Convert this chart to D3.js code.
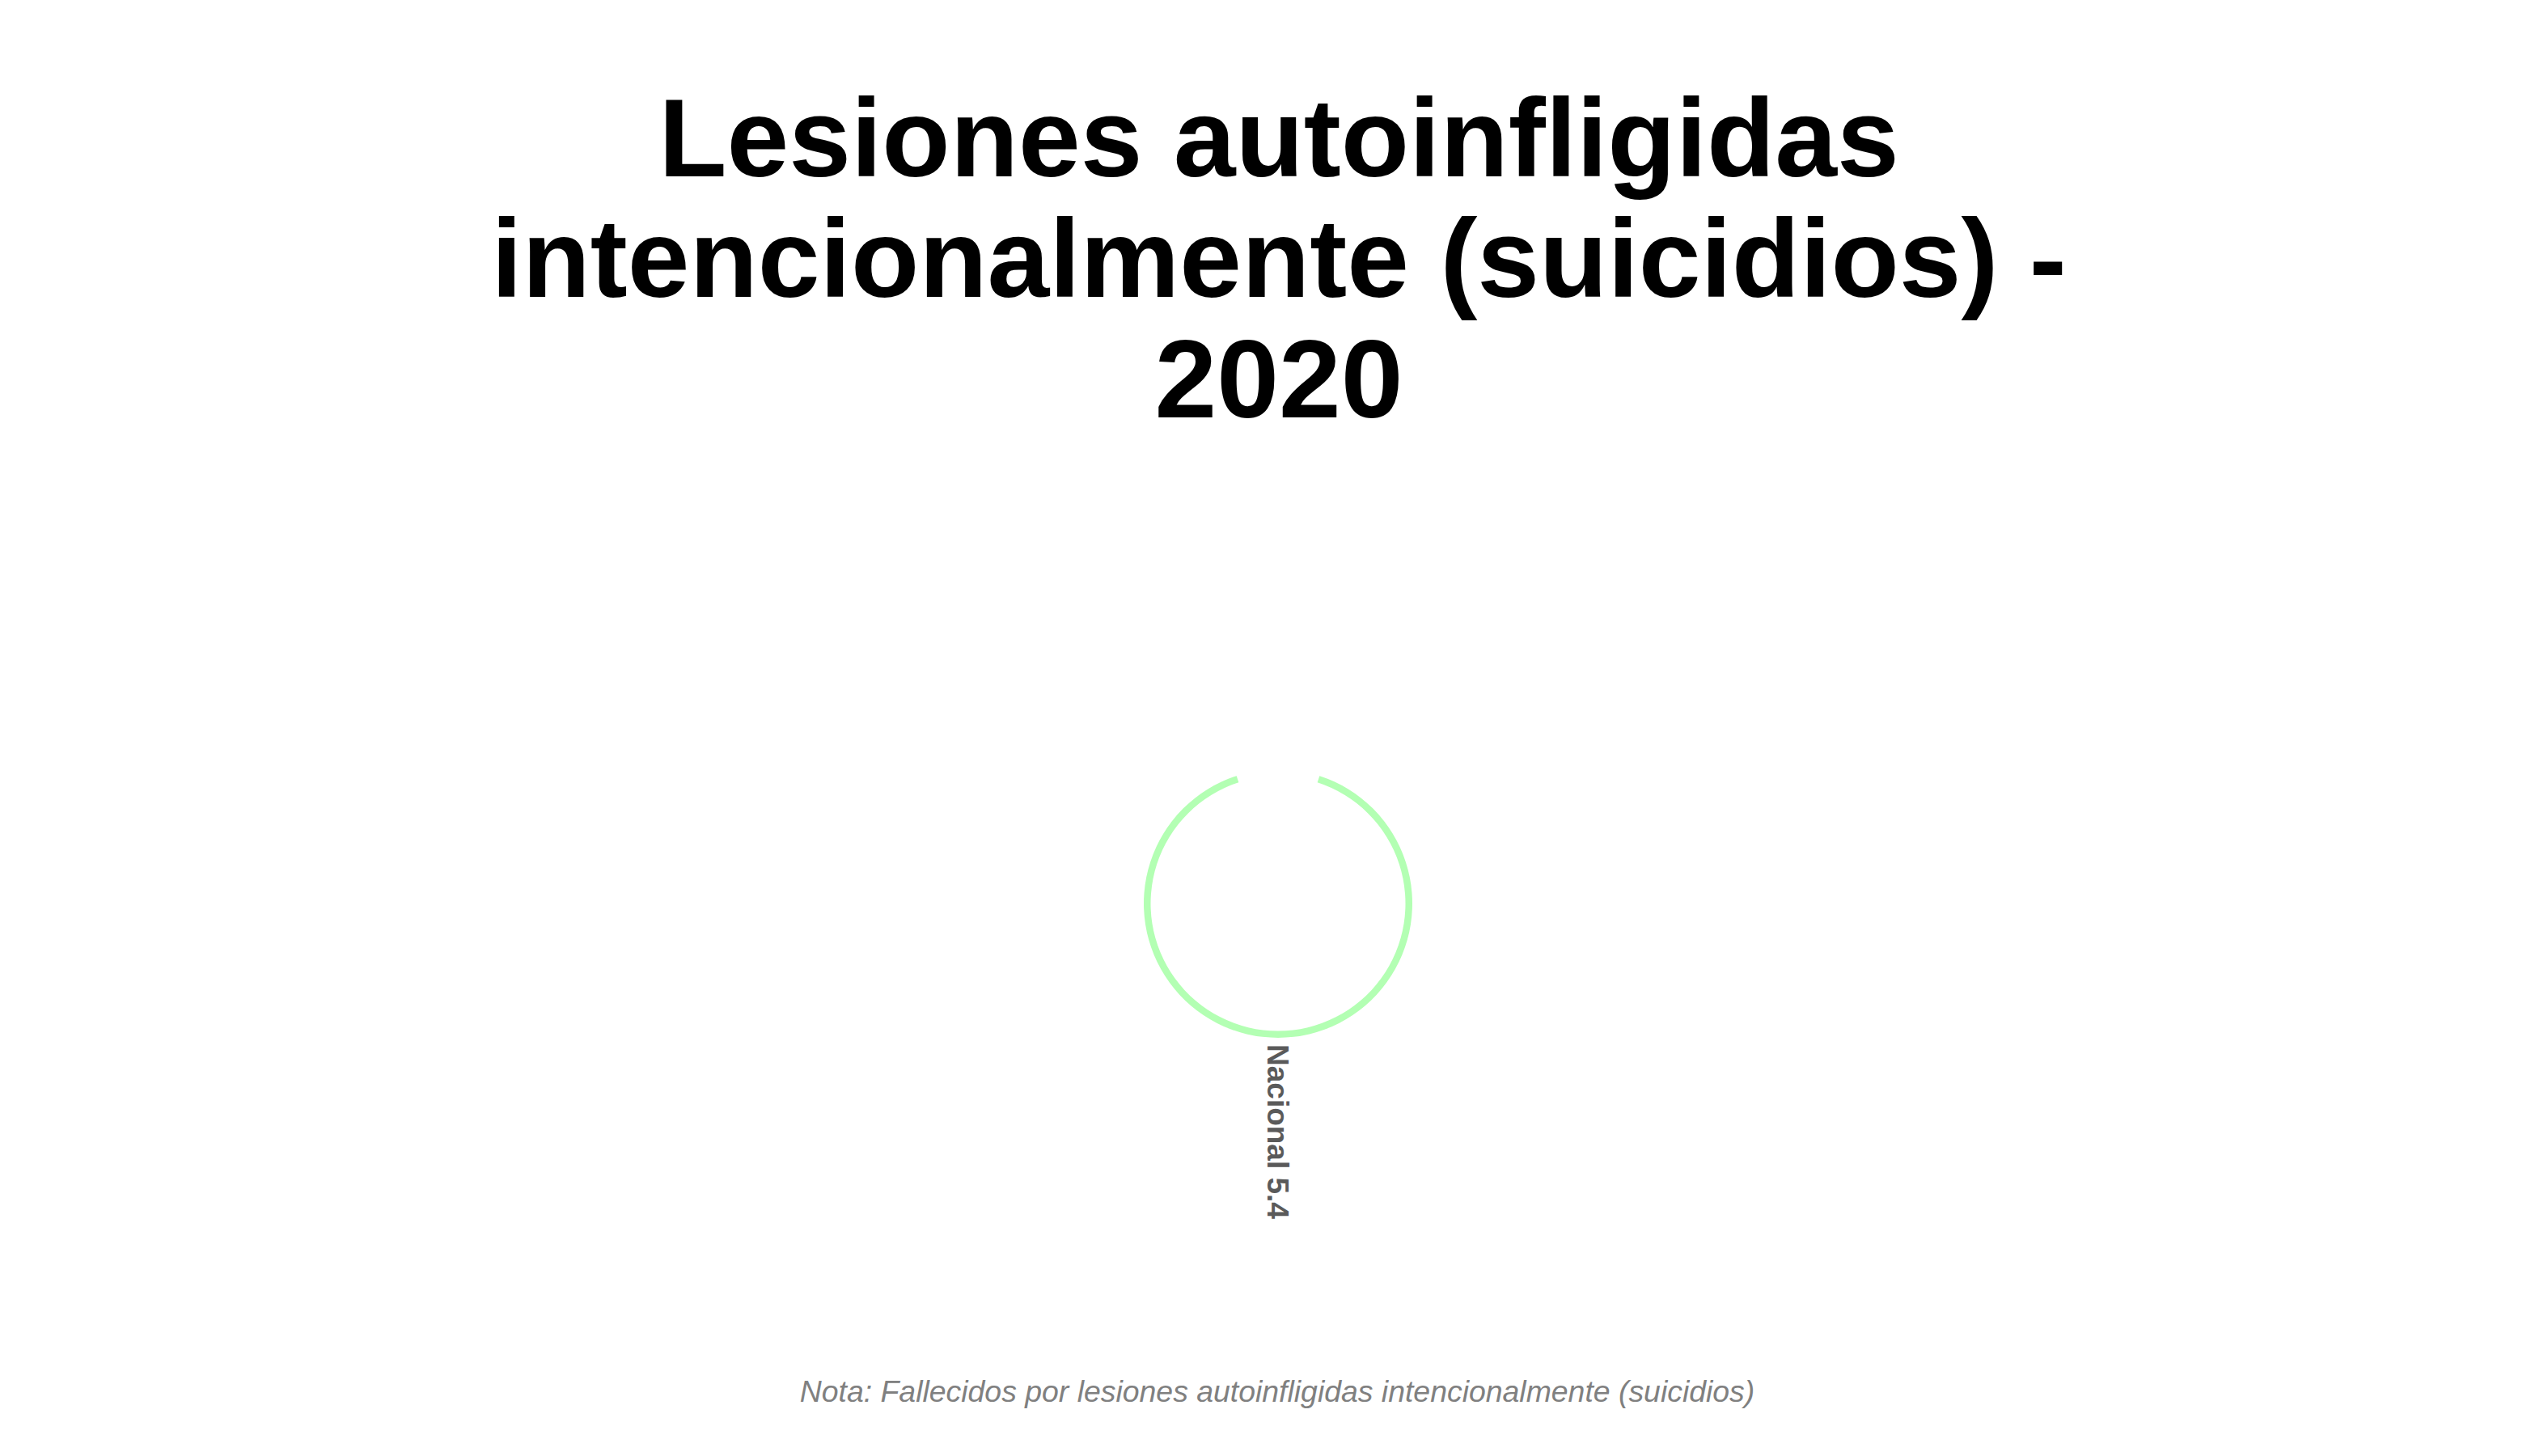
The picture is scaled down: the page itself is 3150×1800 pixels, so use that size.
<!DOCTYPE html>
<html>
<head>
<meta charset="utf-8">
<script src="https://cdn.jsdelivr.net/npm/d3@7"></script>
<style>
  html, body { margin: 0; padding: 0; background: #ffffff; }
  svg { display: block; }
</style>
</head>
<body>
<svg id="chart" width="3150" height="1800"></svg>
<script>
// ---- data ----
const titleLines = ["Lesiones autoinfligidas", "intencionalmente (suicidios) -", "2020"];
const categories = ["Nacional"];
const values = [5.4];
const radialMin = -100;
const noteText = "Nota: Fallecidos por lesiones autoinfligidas intencionalmente (suicidios)";

// ---- layout ----
const W = 3150, H = 1800;
const cx = 1580, cy = 1117;
const outerR = 166;
const svg = d3.select("#chart");

// title
svg.append("g").selectAll("text")
  .data(titleLines)
  .join("text")
  .attr("x", cx + 1)
  .attr("y", (d, i) => 218 + i * 149)
  .attr("text-anchor", "middle")
  .style("font-family", "'Liberation Sans', Arial, sans-serif")
  .style("font-weight", "bold")
  .style("font-size", "138px")
  .style("fill", "#000000")
  .text(d => d);

// scales
const angle = d3.scaleBand()
  .domain(categories)
  .range([0, 2 * Math.PI])
  .paddingInner(0.1)
  .paddingOuter(0.05);

const radius = d3.scaleLinear()
  .domain([radialMin, d3.max(values)])
  .range([0, outerR]);

const data = categories.map((c, i) => ({ cat: c, value: values[i] }));

const g = svg.append("g").attr("transform", `translate(${cx},${cy})`);

const arc = d3.arc()
  .innerRadius(radius(0))
  .outerRadius(d => radius(d.value))
  .startAngle(d => angle(d.cat))
  .endAngle(d => angle(d.cat) + angle.bandwidth());

g.selectAll("path.bar")
  .data(data)
  .join("path")
  .attr("class", "bar")
  .attr("d", arc)
  .attr("fill", "#B3FFB3");

// labels
g.selectAll("text.lbl")
  .data(data)
  .join("text")
  .attr("class", "lbl")
  .attr("transform", d => {
    const a = angle(d.cat) + angle.bandwidth() / 2;
    const r = radius(d.value) + 8;
    const x = r * Math.sin(a), y = -r * Math.cos(a);
    const deg = a * 180 / Math.PI - 90;
    return `translate(${x},${y}) rotate(${deg})`;
  })
  .attr("dy", "0.36em")
  .attr("text-anchor", "start")
  .style("font-family", "'Liberation Sans', Arial, sans-serif")
  .style("font-weight", "bold")
  .style("font-size", "37px")
  .style("fill", "#5a5a5a")
  .text(d => `${d.cat} ${d.value}`);

// note
svg.append("text")
  .attr("x", cx - 1)
  .attr("y", 1733)
  .attr("text-anchor", "middle")
  .style("font-family", "'Liberation Sans', Arial, sans-serif")
  .style("font-style", "italic")
  .style("font-size", "37.4px")
  .style("fill", "#808080")
  .text(noteText);
</script>
</body>
</html>
